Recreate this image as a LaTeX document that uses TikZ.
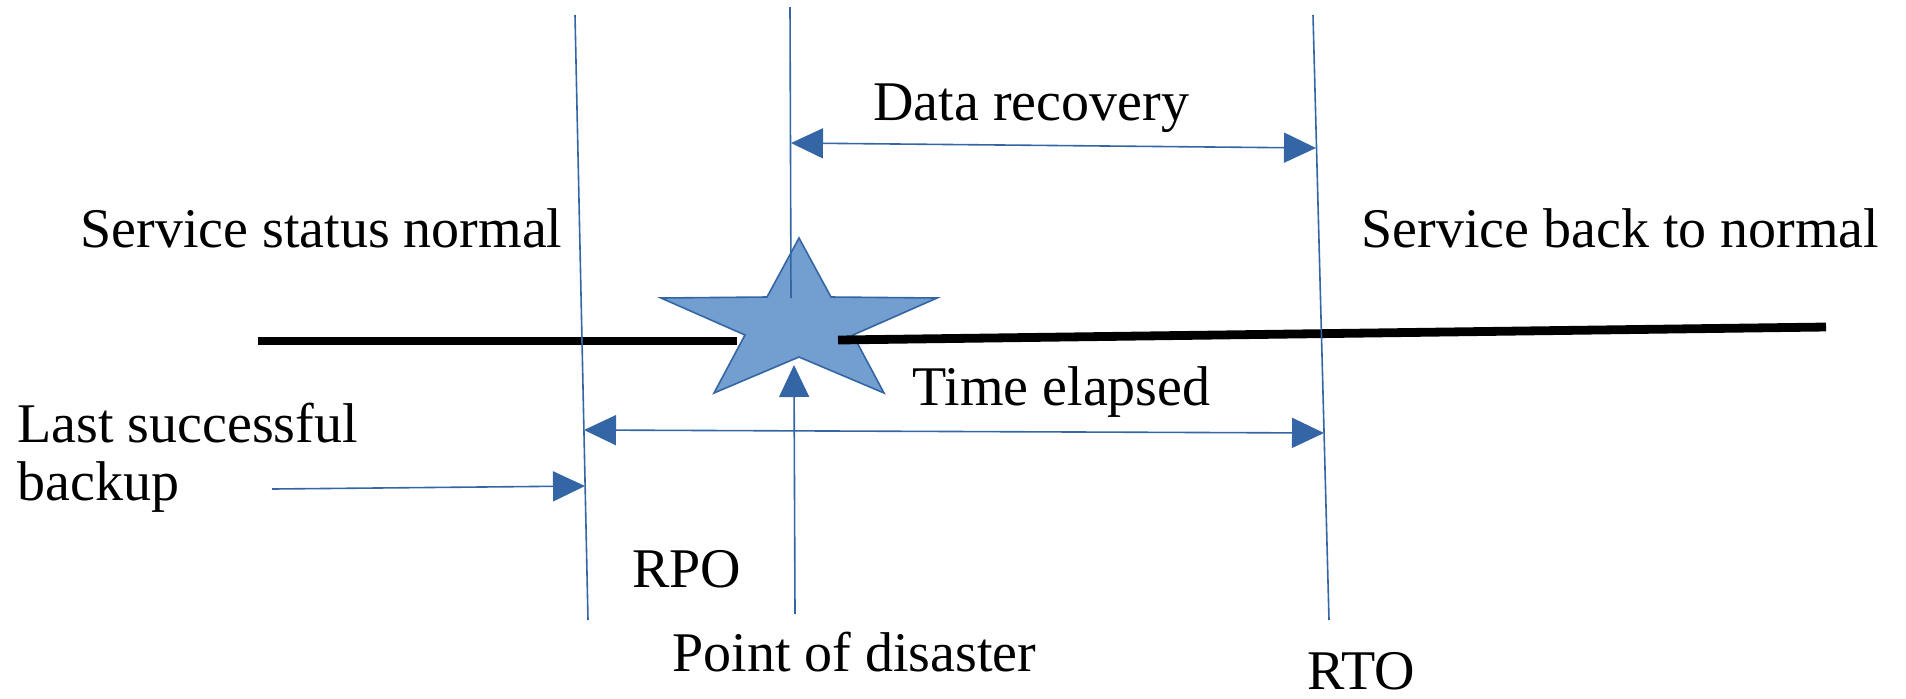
\documentclass[tikz,border=0pt]{standalone}
\usepackage{fontspec}
\setmainfont{Liberation Serif}
\usetikzlibrary{arrows.meta}
\definecolor{lineblue}{HTML}{3465A4}
\definecolor{starfill}{HTML}{729FCF}
\begin{document}
\begin{tikzpicture}[x=0.5pt,y=-0.5pt,
  vline/.style={draw=lineblue, line width=0.8pt},
  sarrow/.style={vline, -{Triangle[length=16pt,width=15pt,fill=lineblue]}},
  dblarrow/.style={vline, {Triangle[length=16pt,width=15pt,fill=lineblue]}-{Triangle[length=16pt,width=15pt,fill=lineblue]}},
  timeline/.style={line width=4.4pt, draw=black},
  lbl/.style={font=\fontsize{28pt}{30pt}\selectfont, inner sep=0pt, anchor=base west},
]
\useasboundingbox (0,0) rectangle (1906,698);
% coordinates
\coordinate (L1t) at (575,15);  \coordinate (L1b) at (588,620);
\coordinate (L2t) at (790,7);   \coordinate (L2m) at (791,298);
\coordinate (L2b) at (795,614); \coordinate (L2tip) at (794,365);
\coordinate (L3t) at (1313,15); \coordinate (L3b) at (1329,620);
\coordinate (DRa) at (791,143); \coordinate (DRb) at (1316,148);
\coordinate (TEa) at (584,430); \coordinate (TEb) at (1324,433);
\coordinate (BKa) at (272,489); \coordinate (BKb) at (585,486);
\coordinate (TLa) at (258,341); \coordinate (TLb) at (737,341);
\coordinate (TLc) at (838,340); \coordinate (TLd) at (1826,327);
% star
\filldraw[fill=starfill, draw=lineblue, line width=0.8pt]
  (799,238) -- (831,297) -- (937,298) -- (853,335) -- (884,393) -- (799,357)
  -- (714,393) -- (745,335) -- (661,298) -- (767,297) -- cycle;
% timeline
\draw[timeline] (TLa) -- (TLb);
\draw[timeline] (TLc) -- (TLd);
% vertical lines
\draw[vline] (L1t) -- (L1b);
\draw[vline] (L2t) -- (L2m);
\draw[vline] (L3t) -- (L3b);
% arrows
\draw[sarrow] (L2b) -- (L2tip);
\draw[dblarrow] (DRa) -- (DRb);
\draw[dblarrow] (TEa) -- (TEb);
\draw[sarrow] (BKa) -- (BKb);
% labels
\node[lbl] (ssn) at (80,247) {Service status normal};
\node[lbl] (dr) at (873,120) {Data recovery};
\node[lbl] (sbn) at (1361,247) {Service back to normal};
\node[lbl] (te) at (912,405) {Time elapsed};
\node[lbl] (ls) at (17,442) {Last successful};
\node[lbl] (bk) at (17,500) {backup};
\node[lbl] (rpo) at (632,587) {RPO};
\node[lbl] (pod) at (672,671) {Point of disaster};
\node[lbl] (rto) at (1307,689) {RTO};
\end{tikzpicture}
\end{document}
